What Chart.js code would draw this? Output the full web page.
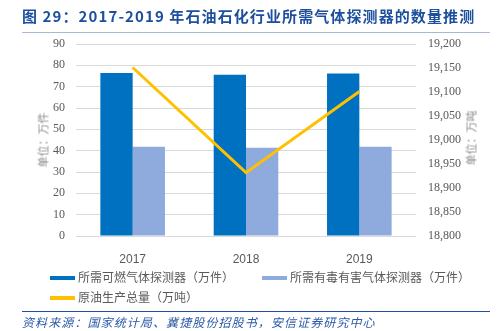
<!DOCTYPE html>
<html>
<head>
<meta charset="utf-8">
<script src="https://cdn.jsdelivr.net/npm/chart.js@4.4.1/dist/chart.umd.min.js"></script>
<style>
	body { margin: 0; background: #fff; }
	#wrap { position: relative; width: 500px; height: 331px; overflow: hidden; font-family: "Noto Sans CJK SC", sans-serif; }
	#c { position: absolute; left: 0; top: 0; }
	.title { position: absolute; left: 22px; top: 5px; font-size: 15px; font-weight: bold; color: #1d4f9c; letter-spacing: 1.1px; white-space: nowrap; }
	.rule1 { position: absolute; left: 22px; top: 32px; width: 468px; height: 1px; background: #a9b8d8; }
	.rule2 { position: absolute; left: 22px; top: 311px; width: 468px; height: 1px; background: #1f4fa8; }
	.src { position: absolute; left: 22px; top: 313px; font-size: 12px; font-style: italic; color: #2a5aa8; letter-spacing: 1.1px; white-space: nowrap; }
	.ytitle { position: absolute; font-size: 11px; color: #8c8c8c; white-space: nowrap; transform: rotate(-90deg); transform-origin: center; }
	.leg { position: absolute; font-size: 12px; color: #595959; white-space: nowrap; }
	.leg i { display: inline-block; width: 25px; height: 4px; vertical-align: middle; margin-right: 3px; position: relative; top: -1px; }
</style>
</head>
<body>
<div id="wrap">
	<canvas id="c" width="500" height="331"></canvas>
	<div class="title">图 29：2017-2019 年石油石化行业所需气体探测器的数量推测</div>
	<div class="rule1"></div>
	<div class="ytitle" style="left:15px; top:132px;">单位：万件</div>
	<div class="ytitle" style="left:443px; top:130px;">单位：万吨</div>
	<div class="leg" style="left:50px; top:268px;"><i style="background:#0070c0"></i>所需可燃气体探测器（万件）</div>
	<div class="leg" style="left:262px; top:268px;"><i style="background:#8faadc"></i>所需有毒有害气体探测器（万件）</div>
	<div class="leg" style="left:50px; top:288px;"><i style="background:#ffc000"></i>原油生产总量（万吨）</div>
	<div class="rule2"></div>
	<div class="src">资料来源：国家统计局、冀捷股份招股书，安信证券研究中心</div>
</div>
<script>
// 年份与三组数据
var years = ['2017', '2018', '2019'];
var kerandong = [76.4, 75.6, 76.2];      // 所需可燃气体探测器（万件）
var youdu = [41.8, 41.4, 41.8];          // 所需有毒有害气体探测器（万件）
var yuanyou = [19151, 18932, 19101];     // 原油生产总量（万吨）

var tickFont = { family: '"Liberation Serif", serif', size: 12 };

new Chart(document.getElementById('c'), {
	type: 'bar',
	data: {
		labels: years,
		datasets: [
			{ type: 'line', data: yuanyou, yAxisID: 'y2', borderColor: '#ffc000', borderWidth: 3,
			  pointRadius: 0, tension: 0, order: 0 },
			{ data: kerandong, backgroundColor: '#0070c0', yAxisID: 'y', order: 1,
			  categoryPercentage: 0.57, barPercentage: 1 },
			{ data: youdu, backgroundColor: '#8faadc', yAxisID: 'y', order: 1,
			  categoryPercentage: 0.57, barPercentage: 1 }
		]
	},
	options: {
		responsive: false,
		animation: false,
		layout: { padding: { top: 44, left: 0, right: 0, bottom: 0 } },
		plugins: { legend: { display: false }, tooltip: { enabled: false } },
		scales: {
			x: {
				grid: { display: false },
				border: { display: false },
				ticks: { color: '#595959', font: { family: '"Liberation Sans", sans-serif', size: 12 }, padding: 8 },
				afterFit: function(s) { s.height = 95; }
			},
			y: {
				position: 'left', min: 0, max: 90,
				ticks: { stepSize: 10, color: '#595959', font: tickFont, padding: 11 },
				grid: { color: '#d9d9d9', drawTicks: false, lineWidth: 1 },
				border: { display: false },
				afterFit: function(s) { s.width = 76; }
			},
			y2: {
				position: 'right', min: 18800, max: 19200,
				ticks: { stepSize: 50, color: '#595959', font: tickFont, padding: 12 },
				grid: { display: false, drawTicks: false },
				border: { display: false },
				afterFit: function(s) { s.width = 84; }
			}
		}
	}
});
</script>
</body>
</html>
